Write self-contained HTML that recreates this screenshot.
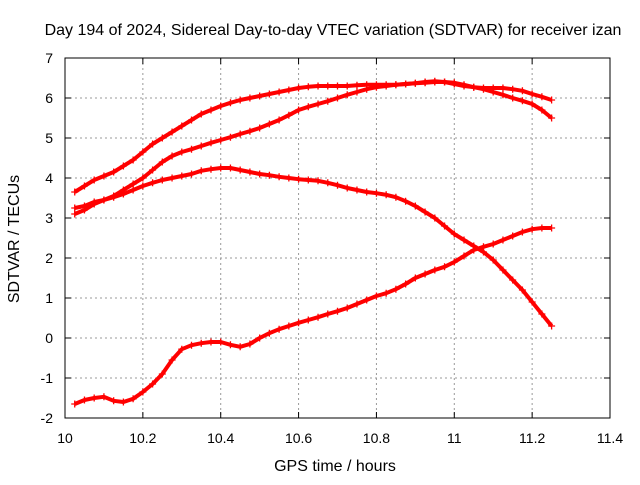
<!DOCTYPE html>
<html><head><meta charset="utf-8"><style>
body{margin:0;background:#fff;font-family:"Liberation Sans",sans-serif}
svg text{font-family:"Liberation Sans",sans-serif;font-size:14px;fill:#000}
svg text.big{font-size:16px}
</style></head><body>
<svg id="c" width="640" height="480">
<text class="big" x="333" y="35" text-anchor="middle">Day 194 of 2024, Sidereal Day-to-day VTEC variation (SDTVAR) for receiver izan</text>
<text class="big" x="335" y="471" text-anchor="middle">GPS time / hours</text>
<text class="big" transform="translate(19,239) rotate(-90)" text-anchor="middle">SDTVAR / TECUs</text>
<g id="grid"></g><g id="series"></g>
<rect x="65" y="58" width="545" height="360" fill="none" stroke="#000"/>
</svg>
<script>
const xTicks=[10,10.2,10.4,10.6,10.8,11,11.2,11.4];
const xTickLabels=["10","10.2","10.4","10.6","10.8","11","11.2","11.4"];
const yTicks=[-2,-1,0,1,2,3,4,5,6,7];
const xStart=10.025, xStep=0.025;
const seriesA=[3.65,3.8,3.95,4.05,4.15,4.3,4.45,4.65,4.85,5.0,5.15,5.3,5.45,5.6,5.7,5.8,5.88,5.95,6.0,6.05,6.1,6.15,6.2,6.25,6.28,6.3,6.3,6.3,6.3,6.32,6.33,6.33,6.33,6.33,6.35,6.37,6.4,6.42,6.4,6.35,6.3,6.27,6.25,6.25,6.25,6.22,6.18,6.1,6.03,5.95];
const seriesB=[3.25,3.3,3.4,3.45,3.55,3.7,3.85,4.0,4.2,4.4,4.55,4.65,4.72,4.8,4.88,4.95,5.02,5.1,5.17,5.25,5.35,5.45,5.57,5.7,5.78,5.85,5.92,6.0,6.08,6.15,6.22,6.27,6.3,6.33,6.35,6.37,6.38,6.4,6.4,6.38,6.33,6.27,6.22,6.15,6.08,6.0,5.93,5.85,5.7,5.5];
const seriesC=[3.1,3.2,3.35,3.45,3.52,3.6,3.7,3.8,3.88,3.95,4.0,4.05,4.1,4.18,4.22,4.25,4.25,4.2,4.15,4.1,4.07,4.03,4.0,3.97,3.95,3.93,3.88,3.82,3.75,3.7,3.65,3.62,3.58,3.52,3.42,3.3,3.15,3.0,2.8,2.6,2.45,2.3,2.15,1.95,1.7,1.45,1.2,0.9,0.6,0.3];
const seriesD=[-1.65,-1.55,-1.5,-1.47,-1.57,-1.6,-1.52,-1.35,-1.15,-0.9,-0.55,-0.28,-0.18,-0.13,-0.1,-0.1,-0.17,-0.22,-0.15,0.0,0.12,0.22,0.3,0.38,0.45,0.52,0.6,0.67,0.75,0.85,0.95,1.05,1.12,1.22,1.35,1.5,1.6,1.7,1.78,1.9,2.05,2.2,2.28,2.35,2.45,2.55,2.65,2.72,2.75,2.75];
const X=v=>65+(v-10)*545/1.4, Y=v=>418-(v+2)*40;
const NS="http://www.w3.org/2000/svg";
const g=document.getElementById('grid'), s=document.getElementById('series');
function mk(t,a,p){const e=document.createElementNS(NS,t);for(const k in a)e.setAttribute(k,a[k]);p.appendChild(e);return e;}
xTicks.forEach((v,i)=>{
 const x=X(v);
 if(i>0&&i<xTicks.length-1){const l=mk('line',{x1:x,x2:x,y1:58,y2:418,stroke:'#999','stroke-dasharray':'2,3'},g);
 
 }
 mk('line',{x1:x,x2:x,y1:418,y2:412,stroke:'#000'},g);mk('line',{x1:x,x2:x,y1:58,y2:64,stroke:'#000'},g);
 const t=mk('text',{x:x,y:443,'text-anchor':'middle'},g);t.textContent=xTickLabels[i];
 
 
});
yTicks.forEach((v,i)=>{
 const y=Y(v);
 if(i>0&&i<yTicks.length-1){const l=mk('line',{x1:65,x2:610,y1:y,y2:y,stroke:'#999','stroke-dasharray':'2,3'},g);
 
 }
 mk('line',{x1:65,x2:71,y1:y,y2:y,stroke:'#000'},g);mk('line',{x1:610,x2:604,y1:y,y2:y,stroke:'#000'},g);
 const t=mk('text',{x:53,y:y+5,'text-anchor':'end'},g);t.textContent=String(v);
 
 
});
[seriesA,seriesB,seriesC,seriesD].forEach((arr,si)=>{
 const grp=mk('g',{},s);
 
 
 const pts=arr.map((v,i)=>[X(xStart+i*xStep),Y(v)]);
 mk('polyline',{points:pts.map(p=>p.join(',')).join(' '),fill:'none',stroke:'#f00','stroke-width':4,'stroke-linejoin':'round'},grp);
 pts.forEach(p=>{
  const m=mk('path',{d:`M${p[0]-3.5},${p[1]}h7M${p[0]},${p[1]-3.5}v7`,stroke:'#f00','stroke-width':1.3},grp);
  
  
 });
});
</script>
</body></html>
